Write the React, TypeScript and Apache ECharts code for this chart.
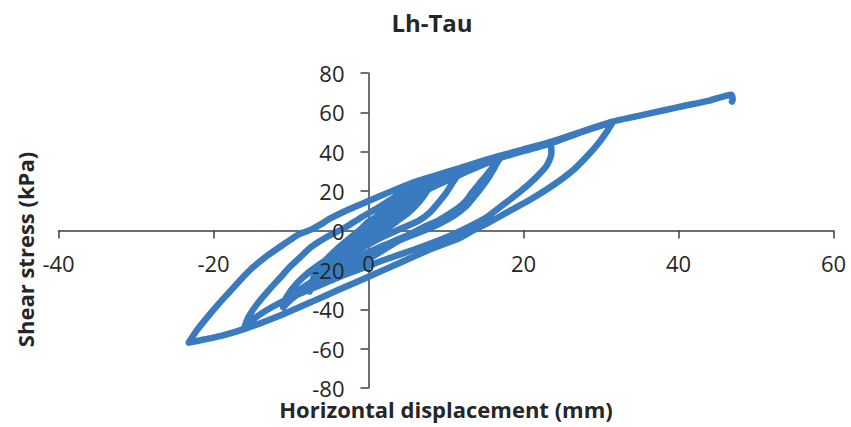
import React, { useEffect, useRef } from "react";
import * as echarts from "echarts";

// ---- Tick layout ----
const xMin = -40, xMax = 60, xStep = 20;
const yMin = -80, yMax = 80, yStep = 20;

// ---- Titles ----
const chartTitle = "Lh-Tau";
const xName = "Horizontal displacement (mm)";
const yName = "Shear stress (kPa)";

// ---- Hysteresis record [displacement mm, shear stress kPa], in loading order ----
const start: number[][] = [[0, 0], [0.8, 5], [1.5, 10]];
const down1: number[][] = [[1.3, 6], [0.7, 1.5], [0, -2], [-0.7, -6], [-1.2, -10]];
const up1: number[][] = [[-1, -6], [-0.5, -3], [0, -1], [0.8, 3], [1.7, 8], [2.5, 14]];
const down2: number[][] = [[2.2, 10], [1.6, 5.5], [0.8, 1], [0, -3], [-1, -7.5], [-1.6, -10.5], [-2, -13.5]];
const up2: number[][] = [[-1.8, -9], [-1.2, -5], [-0.5, -2], [0, 0], [1, 4.5], [2.2, 10], [3.5, 17.5]];
const down3: number[][] = [[3.3, 13.5], [2.8, 9], [2, 4.5], [1, 0], [0, -4], [-1.2, -8.5], [-2.2, -12.5], [-3, -17]];
const up3: number[][] = [[-2.8, -12.5], [-2.2, -8], [-1.2, -3.5], [0, 0.5], [1.3, 5], [2.5, 10], [3.5, 14.5], [4.5, 20.5]];
const down4: number[][] = [[4.3, 16.5], [3.8, 12], [3, 7.5], [2, 3], [1, -1], [0, -5], [-1.2, -9.5], [-2.4, -13.5], [-3.4, -17], [-4, -20.5]];
const up4: number[][] = [[-3.8, -16], [-3.2, -11], [-2.2, -6], [-1, -1.5], [0, 1.5], [1, 4.5], [2.3, 9], [3.5, 13.5], [4.5, 17.5], [5.5, 23]];
const down4b: number[][] = [[5.2, 19.5], [4.5, 15], [3.5, 10], [2.3, 5], [1.2, 0.5], [0, -3.5], [-1.3, -8.5], [-2.7, -13.5], [-3.9, -18], [-5, -22]];
const up4b: number[][] = [[-4.8, -17], [-4, -12], [-2.8, -6.5], [-1.5, -2], [0, 2.5], [1.3, 6.5], [2.6, 11], [4, 16], [5.5, 23]];
const down5: number[][] = [[5.3, 19], [4.8, 14.5], [4, 10], [3, 5.5], [1.8, 1.5], [0, -3], [-1.5, -7.5], [-3, -12.5], [-4.3, -18], [-5.2, -23.5]];
const up5: number[][] = [[-5, -19], [-4.4, -14], [-3.5, -9], [-2, -3.5], [0, 3.5], [1.5, 8], [3.5, 13.5], [5.5, 19.5], [7, 23.5], [8.3, 26.5]];
const down5b: number[][] = [[8, 23], [7.2, 18], [6.2, 13], [5, 8.5], [3.5, 4.5], [1.8, 1], [0, -2.5], [-1.5, -6.5], [-3, -11], [-4.5, -16.5], [-5.5, -21], [-6, -24]];
const up5b: number[][] = [[-5.7, -19.5], [-5, -14.5], [-3.8, -9.5], [-2, -3.5], [0, 4.5], [2, 9], [4, 14], [5.8, 19], [7.2, 23], [8.3, 26.5]];
const down6: number[][] = [[7.9, 23], [7.3, 19], [6.6, 15.2], [5.7, 11.5], [4.9, 8.6], [3.6, 4.5], [2, 0], [0, -4.5], [-2, -9.5], [-3.8, -14.5], [-5.2, -19.5], [-6, -23], [-6.3, -26.5]];
const up6: number[][] = [[-6.1, -22], [-5.5, -17], [-4.5, -11.5], [-3, -6], [-1.5, -1.5], [0, 2.5], [1.5, 6.5], [3, 10.5], [5, 16], [6.5, 20.5], [8.3, 25], [10.2, 28.5], [12, 31]];
const down7: number[][] = [[11.6, 28.5], [10.9, 24.5], [10.1, 19.5], [9.2, 15], [8, 9.5], [6.5, 5], [4.5, 1.5], [2, -3], [0, -7], [-2.5, -12.5], [-4.8, -18], [-6.4, -23.5], [-7.3, -27.5], [-7.6, -31]];
const up7: number[][] = [[-7.3, -26], [-6.6, -20.5], [-5.4, -14.5], [-3.8, -8.5], [-2, -2.5], [0, 3.5], [2, 9], [4, 14.5], [6, 19.5], [8.5, 24.5], [12, 29.5], [14.5, 33.5], [17, 37.5]];
const down8: number[][] = [[16.5, 35], [16, 32], [15.2, 28], [14.3, 23.8], [13.4, 19.5], [12.6, 15.2], [11.6, 11.5], [10.5, 8.6], [9, 5], [7.5, 2.5], [5, -2.5], [2, -7.5], [0, -11], [-3, -16.5], [-6, -23], [-8.5, -29], [-10, -34], [-11, -39]];
const up8b: number[][] = [[-10.6, -34.5], [-9.5, -28], [-7.8, -21.5], [-5.5, -15], [-3, -8.5], [-0.5, -2.5], [2, 4], [4, 10], [6, 16], [8, 21.5], [10.5, 26], [13, 30.5], [17, 37]];
const down8b: number[][] = [[16.6, 34.5], [16.2, 31.5], [15.5, 27], [14.6, 22], [13.6, 17], [12.5, 12], [11, 7.5], [9.2, 3.5], [7.5, 0.5], [4, -5], [0, -14.5], [-3, -20], [-6, -26], [-8.5, -31], [-10, -35], [-11, -39]];
const up8: number[][] = [[-10.6, -34], [-9.3, -27], [-7.2, -20], [-4.6, -14], [-2.5, -7.5], [0, 0], [2, 6], [4, 12], [6, 17.5], [8, 22], [10, 26], [12, 29.5], [17, 36.8], [20, 40.5], [23.5, 44.5]];
const down9: number[][] = [[23.6, 39], [23, 33], [21.5, 26.5], [19.5, 19.5], [17.5, 13.5], [15.2, 6.6], [13, 2], [10, -3.5], [6, -9.5], [2, -15], [0, -18], [-4, -24], [-7, -29], [-10, -34], [-12.5, -39], [-14.5, -44], [-16, -49]];
const up9: number[][] = [[-15.5, -44], [-14.3, -37], [-12.8, -30], [-11.4, -24], [-10.2, -18.7], [-8.8, -13.5], [-7.6, -9], [-6.3, -5.5], [-5, -2.5], [-3, 1.5], [-1, 6.5], [1, 11], [3, 16], [5.5, 21.5], [8.3, 25.5], [12, 30.5], [17, 37], [23.5, 44.3], [27.5, 50], [31.5, 55]];
const down10: number[][] = [[30.8, 50.5], [29.8, 45], [28.5, 39], [26.5, 31], [24, 23.5], [21, 16], [18, 9.5], [15.5, 4], [13.5, 0], [11.7, -4], [8, -9.5], [4, -16.5], [0, -23.5], [-3.5, -29.5], [-7.2, -36], [-11, -42.5], [-15.7, -49.6], [-19, -53.5], [-22.7, -56.5], [-23.2, -57]];
const upFinal: number[][] = [[-22.2, -51], [-21, -45], [-19.5, -38], [-18, -31.5], [-16.5, -25], [-15, -19], [-13.3, -13.5], [-11.5, -8.5], [-10, -4.5], [-9, -2], [-7.5, 0.3], [-6, 3.5], [-5, 6], [-2.5, 10.8], [0, 15], [3, 20], [5.5, 24], [8.3, 27.5], [12, 32], [17, 38], [23.5, 45], [31.5, 55.3], [36, 59.2], [40, 62.7], [44, 66], [46.8, 69], [47, 66.5], [46.9, 65.5]];

const record: number[][] = [
  ...start, ...down1, ...up1, ...down2, ...up2, ...down3, ...up3, ...down4, ...up4,
  ...down4b, ...up4b, ...down5, ...up5, ...down5b, ...up5b, ...down6, ...up6,
  ...down7, ...up7, ...down8, ...up8b, ...down8b, ...up8, ...down9, ...up9,
  ...down10, ...upFinal,
];

const FONT = "'Open Sans', 'Noto Sans', sans-serif";
const INK = "#262626";
const AXIS = "#404040";
const LINE_BLUE = "#3a7bbf";

// grid geometry (px)
const GRID = { left: 58.5, right: 17.5, top: 73, bottom: 39 };
const W = 851, H = 427;

export default function App() {
  const ref = useRef<HTMLDivElement>(null);

  useEffect(() => {
    if (!ref.current) return;
    const chart = echarts.init(ref.current, undefined, { renderer: "svg" });

    const gw = W - GRID.left - GRID.right;
    const gh = H - GRID.top - GRID.bottom;
    // shift the label-only axes onto the zero lines of the main axes
    const xZeroShift = -gh * (0 - yMin) / (yMax - yMin);
    const yZeroShift = -gw * (0 - xMin) / (xMax - xMin);

    const labelStyle = { color: INK, fontSize: 22, fontFamily: FONT };
    const realLine = { show: true, onZero: true, lineStyle: { color: AXIS, width: 1.5 } };
    const ticks = { show: true, length: 8, inside: false, lineStyle: { color: AXIS, width: 1.5 } };

    chart.setOption({
      animation: false,
      backgroundColor: "#ffffff",
      grid: { ...GRID, containLabel: false },
      xAxis: [
        {
          type: "value", min: xMin, max: xMax, interval: xStep, position: "bottom",
          axisLine: realLine, axisTick: ticks,
          axisLabel: { show: false }, splitLine: { show: false }, z: 0,
        },
        {
          type: "value", min: xMin, max: xMax, interval: xStep, position: "bottom", offset: xZeroShift,
          axisLine: { show: false, onZero: false }, axisTick: { show: false },
          axisLabel: { show: true, margin: 21, ...labelStyle }, splitLine: { show: false }, z: 10,
        },
      ],
      yAxis: [
        {
          type: "value", min: yMin, max: yMax, interval: yStep, position: "left",
          axisLine: realLine, axisTick: ticks,
          axisLabel: { show: false }, splitLine: { show: false }, z: 0,
        },
        {
          type: "value", min: yMin, max: yMax, interval: yStep, position: "left", offset: yZeroShift,
          axisLine: { show: false, onZero: false }, axisTick: { show: false },
          axisLabel: { show: true, margin: 24, ...labelStyle }, splitLine: { show: false }, z: 10,
        },
      ],
      series: [
        {
          type: "line",
          xAxisIndex: 0,
          yAxisIndex: 0,
          data: record,
          showSymbol: false,
          symbol: "none",
          smooth: 0.2,
          z: 2,
          lineStyle: { color: LINE_BLUE, width: 6.5, cap: "round", join: "round" },
        },
      ],
      graphic: [
        {
          type: "text", x: 432, y: 22.5, z: 20,
          style: {
            text: chartTitle, fontSize: 24, fontWeight: "bold", fontFamily: FONT, fill: INK,
            align: "center", verticalAlign: "middle", textAlign: "center", textVerticalAlign: "middle",
          },
        },
        {
          type: "text", x: 446, y: 409, z: 20,
          style: {
            text: xName, fontSize: 22, fontWeight: "bold", fontFamily: FONT, fill: INK,
            align: "center", verticalAlign: "middle", textAlign: "center", textVerticalAlign: "middle",
          },
        },
        {
          type: "text", x: 25, y: 249.5, rotation: Math.PI / 2, z: 20,
          style: {
            text: yName, fontSize: 22, fontWeight: "bold", fontFamily: FONT, fill: INK,
            align: "center", verticalAlign: "middle", textAlign: "center", textVerticalAlign: "middle",
          },
        },
      ],
    });

    return () => chart.dispose();
  }, []);

  return (
    <div
      ref={ref}
      style={{ position: "fixed", left: 0, top: 0, width: 851, height: 427, background: "#fff" }}
    />
  );
}
